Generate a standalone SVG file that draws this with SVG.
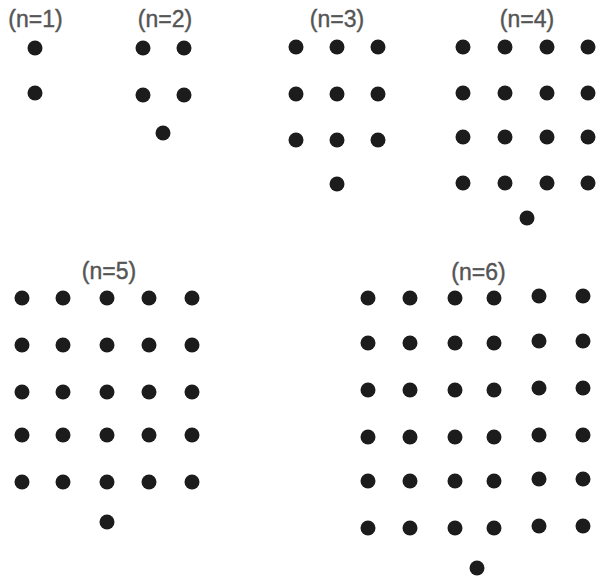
<svg xmlns="http://www.w3.org/2000/svg" width="597" height="577" viewBox="0 0 597 577">
<style>
.lbl{font-family:"Liberation Sans",Arial,sans-serif;font-size:23px;fill:#555555;stroke:#555555;stroke-width:0.4;text-anchor:middle}
.d{fill:#1c1c1c}
</style>
<rect width="597" height="577" fill="#ffffff"/>
<g id="n1">
<text class="lbl" x="35.5" y="27">(n=1)</text>
<circle class="d" cx="35" cy="48" r="7.5"/>
<circle class="d" cx="35" cy="93" r="7.5"/>
</g>
<g id="n2">
<text class="lbl" x="165" y="27">(n=2)</text>
<circle class="d" cx="143" cy="48" r="7.5"/><circle class="d" cx="184" cy="48" r="7.5"/>
<circle class="d" cx="143" cy="95" r="7.5"/><circle class="d" cx="184" cy="95" r="7.5"/>
<circle class="d" cx="163" cy="133" r="7.5"/>
</g>
<g id="n3">
<text class="lbl" x="337" y="27">(n=3)</text>
<circle class="d" cx="296" cy="47" r="7.5"/><circle class="d" cx="337" cy="47" r="7.5"/><circle class="d" cx="378" cy="47" r="7.5"/>
<circle class="d" cx="296" cy="94" r="7.5"/><circle class="d" cx="337" cy="94" r="7.5"/><circle class="d" cx="378" cy="94" r="7.5"/>
<circle class="d" cx="296" cy="140" r="7.5"/><circle class="d" cx="337" cy="140" r="7.5"/><circle class="d" cx="378" cy="140" r="7.5"/>
<circle class="d" cx="337" cy="184" r="7.5"/>
</g>
<g id="n4">
<text class="lbl" x="527" y="27">(n=4)</text>
<circle class="d" cx="463" cy="47" r="7.5"/><circle class="d" cx="505" cy="47" r="7.5"/><circle class="d" cx="547" cy="47" r="7.5"/><circle class="d" cx="588" cy="47" r="7.5"/>
<circle class="d" cx="463" cy="93" r="7.5"/><circle class="d" cx="505" cy="93" r="7.5"/><circle class="d" cx="547" cy="93" r="7.5"/><circle class="d" cx="588" cy="93" r="7.5"/>
<circle class="d" cx="463" cy="137" r="7.5"/><circle class="d" cx="505" cy="137" r="7.5"/><circle class="d" cx="547" cy="137" r="7.5"/><circle class="d" cx="588" cy="137" r="7.5"/>
<circle class="d" cx="463" cy="183" r="7.5"/><circle class="d" cx="505" cy="183" r="7.5"/><circle class="d" cx="547" cy="183" r="7.5"/><circle class="d" cx="588" cy="183" r="7.5"/>
<circle class="d" cx="527" cy="218" r="7.5"/>
</g>
<g id="n5">
<text class="lbl" x="109" y="279">(n=5)</text>
<circle class="d" cx="22" cy="298" r="7.5"/><circle class="d" cx="63" cy="298" r="7.5"/><circle class="d" cx="107" cy="298" r="7.5"/><circle class="d" cx="149" cy="298" r="7.5"/><circle class="d" cx="192" cy="298" r="7.5"/>
<circle class="d" cx="22" cy="345" r="7.5"/><circle class="d" cx="63" cy="345" r="7.5"/><circle class="d" cx="107" cy="345" r="7.5"/><circle class="d" cx="149" cy="345" r="7.5"/><circle class="d" cx="192" cy="345" r="7.5"/>
<circle class="d" cx="22" cy="392" r="7.5"/><circle class="d" cx="63" cy="392" r="7.5"/><circle class="d" cx="107" cy="392" r="7.5"/><circle class="d" cx="149" cy="392" r="7.5"/><circle class="d" cx="192" cy="392" r="7.5"/>
<circle class="d" cx="22" cy="435" r="7.5"/><circle class="d" cx="63" cy="435" r="7.5"/><circle class="d" cx="107" cy="435" r="7.5"/><circle class="d" cx="149" cy="435" r="7.5"/><circle class="d" cx="192" cy="435" r="7.5"/>
<circle class="d" cx="22" cy="482" r="7.5"/><circle class="d" cx="63" cy="482" r="7.5"/><circle class="d" cx="107" cy="482" r="7.5"/><circle class="d" cx="149" cy="482" r="7.5"/><circle class="d" cx="192" cy="482" r="7.5"/>
<circle class="d" cx="107" cy="522" r="7.5"/>
</g>
<g id="n6">
<text class="lbl" x="478.5" y="280">(n=6)</text>
<circle class="d" cx="368" cy="298" r="7.5"/><circle class="d" cx="410" cy="298" r="7.5"/><circle class="d" cx="455" cy="298" r="7.5"/><circle class="d" cx="494" cy="298" r="7.5"/><circle class="d" cx="539" cy="296" r="7.5"/><circle class="d" cx="583" cy="296" r="7.5"/>
<circle class="d" cx="368" cy="343" r="7.5"/><circle class="d" cx="410" cy="343" r="7.5"/><circle class="d" cx="455" cy="343" r="7.5"/><circle class="d" cx="494" cy="343" r="7.5"/><circle class="d" cx="539" cy="341" r="7.5"/><circle class="d" cx="583" cy="341" r="7.5"/>
<circle class="d" cx="368" cy="390" r="7.5"/><circle class="d" cx="410" cy="390" r="7.5"/><circle class="d" cx="455" cy="390" r="7.5"/><circle class="d" cx="494" cy="390" r="7.5"/><circle class="d" cx="539" cy="388" r="7.5"/><circle class="d" cx="583" cy="388" r="7.5"/>
<circle class="d" cx="368" cy="437" r="7.5"/><circle class="d" cx="410" cy="437" r="7.5"/><circle class="d" cx="455" cy="437" r="7.5"/><circle class="d" cx="494" cy="437" r="7.5"/><circle class="d" cx="539" cy="435" r="7.5"/><circle class="d" cx="583" cy="435" r="7.5"/>
<circle class="d" cx="368" cy="481" r="7.5"/><circle class="d" cx="410" cy="481" r="7.5"/><circle class="d" cx="455" cy="481" r="7.5"/><circle class="d" cx="494" cy="481" r="7.5"/><circle class="d" cx="539" cy="479" r="7.5"/><circle class="d" cx="583" cy="479" r="7.5"/>
<circle class="d" cx="368" cy="528" r="7.5"/><circle class="d" cx="410" cy="528" r="7.5"/><circle class="d" cx="455" cy="528" r="7.5"/><circle class="d" cx="494" cy="528" r="7.5"/><circle class="d" cx="539" cy="526" r="7.5"/><circle class="d" cx="583" cy="526" r="7.5"/>
<circle class="d" cx="477" cy="568" r="7.5"/>
</g>
</svg>
